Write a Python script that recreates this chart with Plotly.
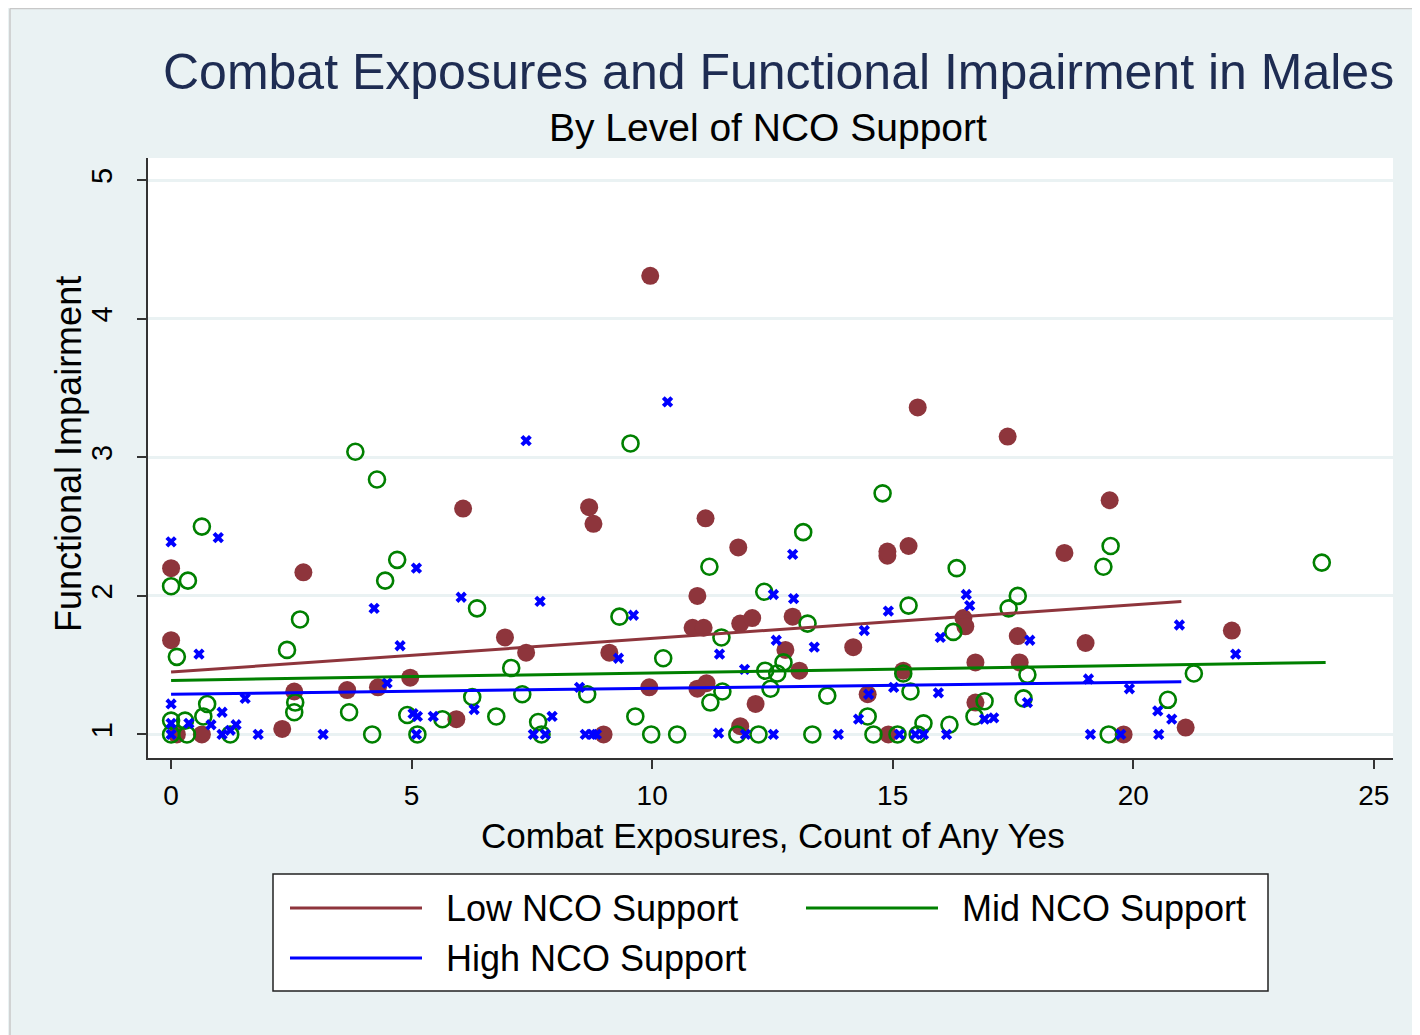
import plotly.graph_objects as go

# ---------------- data ----------------
low_x = [0.00, 0.00, 0.12, 0.64, 2.75, 2.56, 2.31, 3.66, 4.30, 4.97, 5.93, 6.07, 6.94, 7.38, 8.69, 8.78,
         8.99, 9.11, 9.96, 9.94, 10.94, 10.84, 11.07, 11.11, 11.13, 10.94, 11.79, 11.83, 12.08, 11.83,
         12.15, 12.77, 12.92, 13.06, 14.18, 14.48, 14.89, 14.89, 14.91, 15.33, 15.52, 15.22, 16.47,
         16.51, 16.72, 16.72, 17.39, 17.60, 17.64, 18.57, 19.01, 19.51, 19.80, 22.05, 21.09]
low_y = [2.20, 1.68, 1.00, 1.00, 2.17, 1.31, 1.04, 1.32, 1.34, 1.41, 1.11, 2.63, 1.70, 1.59, 2.64, 2.52,
         1.00, 1.59, 4.31, 1.34, 2.00, 1.77, 1.77, 2.56, 1.37, 1.33, 2.35, 1.80, 1.84, 1.06,
         1.22, 1.61, 1.85, 1.46, 1.63, 1.29, 2.29, 2.32, 1.00, 2.36, 3.36, 1.46, 1.84,
         1.78, 1.52, 1.23, 3.15, 1.71, 1.52, 2.31, 1.66, 2.69, 1.00, 1.75, 1.05]

mid_x = [0.00, 0.35, 0.64, 0.12, 0.00, 0.00, 0.33, 0.29, 0.67, 0.75, 1.23, 2.41, 2.68, 2.58, 2.56, 3.83,
         4.28, 4.45, 4.70, 3.70, 4.18, 4.91, 5.12, 5.64, 6.26, 6.36, 6.76, 7.07, 7.30, 7.63, 7.70,
         8.65, 9.32, 9.55, 9.65, 9.98, 10.23, 10.52, 11.19, 11.44, 11.46, 11.21, 11.77, 12.21, 12.33,
         12.35, 12.46, 12.60, 12.73, 13.14, 13.23, 13.33, 13.64, 14.48, 14.60, 14.79, 15.10, 15.22,
         15.33, 15.37, 15.52, 15.64, 16.18, 16.33, 16.26, 16.70, 16.91, 17.41, 17.60, 17.72, 17.80,
         19.38, 19.53, 19.49, 20.72, 21.26, 23.92]
mid_y = [2.07, 2.11, 2.50, 1.56, 1.10, 1.00, 1.00, 1.10, 1.13, 1.22, 1.00, 1.61, 1.83, 1.23, 1.16, 3.04,
         2.84, 2.11, 2.26, 1.16, 1.00, 1.14, 1.00, 1.11, 1.27, 1.91, 1.13, 1.48, 1.29, 1.09, 1.00,
         1.29, 1.85, 3.10, 1.13, 1.00, 1.55, 1.00, 2.21, 1.70, 1.31, 1.23, 1.00, 1.00, 2.03,
         1.46, 1.33, 1.44, 1.52, 2.46, 1.80, 1.00, 1.28, 1.13, 1.00, 2.74, 1.00, 1.44,
         1.93, 1.31, 1.00, 1.08, 1.07, 2.20, 1.74, 1.13, 1.24, 1.91, 2.00, 1.26, 1.43,
         2.21, 2.36, 1.00, 1.25, 1.44, 2.24]

high_x = [0.00, 0.98, 0.58, 1.54, 0.00, 1.06, 0.00, 0.37, 0.83, 1.35, 1.23, 1.06, 0.00, 1.81, 3.16,
          4.22, 4.76, 5.10, 4.49, 6.03, 7.67, 7.38, 6.30, 5.45, 5.03, 5.12, 5.10, 7.92, 7.53, 7.78,
          10.32, 9.61, 12.92, 12.52, 12.94, 14.91, 16.53, 16.60, 14.41, 15.99, 12.58, 11.40, 13.37,
          9.30, 11.92, 8.49, 15.02, 15.95, 14.50, 14.29, 8.61, 8.76, 8.84, 11.38, 11.94, 12.52,
          13.87, 15.14, 15.47, 15.64, 16.12, 17.85, 20.96, 22.13, 19.07, 19.92, 17.80, 20.51,
          20.80, 16.91, 17.10, 19.11, 19.74, 20.53]
high_y = [2.39, 2.42, 1.58, 1.26, 1.22, 1.16, 1.08, 1.08, 1.07, 1.07, 1.03, 1.00, 1.00, 1.00, 1.00,
          1.91, 1.64, 2.20, 1.37, 1.99, 1.96, 3.12, 1.18, 1.13, 1.15, 1.13, 1.00, 1.13, 1.00, 1.00,
          3.40, 1.86, 2.30, 2.01, 1.98, 1.89, 2.01, 1.93, 1.75, 1.70, 1.68, 1.58, 1.63,
          1.55, 1.47, 1.34, 1.34, 1.30, 1.29, 1.11, 1.00, 1.00, 1.00, 1.01, 1.00, 1.00,
          1.00, 1.00, 1.00, 1.00, 1.00, 1.68, 1.79, 1.58, 1.40, 1.33, 1.23, 1.17,
          1.11, 1.11, 1.12, 1.00, 1.00, 1.00]

# linear fit lines (endpoints)
low_fit_x = [0, 21]
low_fit_y = [1.45, 1.96]
mid_fit_x = [0, 24]
mid_fit_y = [1.39, 1.52]
high_fit_x = [0, 21]
high_fit_y = [1.29, 1.38]

series_names = ["Low NCO Support", "Mid NCO Support", "High NCO Support"]
x_ticks = [0, 5, 10, 15, 20, 25]
y_ticks = [1, 2, 3, 4, 5]

# ---------------- styling ----------------
C_LOW = "#8E353C"
C_MID = "#008000"
C_HIGH = "#0000FF"
BG = "#EAF2F3"
FONT = "Liberation Sans, Arial, sans-serif"

W, H = 1420, 1035
OFF = 8  # page body margin in the screenshot
# plot area in screenshot pixels
SL, SR, ST, SB = 148, 1393, 158, 758
L, R, T, B = SL - OFF, SR - OFF, ST - OFF, SB - OFF  # in figure pixels


def px(xs):
    """screenshot x pixel -> paper"""
    return (xs - SL) / (SR - SL)


def py(ys):
    """screenshot y pixel -> paper"""
    return (SB - ys) / (SB - ST)


fig = go.Figure()

fig.add_trace(go.Scatter(x=low_x, y=low_y, mode="markers", showlegend=False,
                         marker=dict(symbol="circle", size=18, color=C_LOW, line=dict(width=0))))
fig.add_trace(go.Scatter(x=mid_x, y=mid_y, mode="markers", showlegend=False,
                         marker=dict(symbol="circle-open", size=16, color=C_MID, line=dict(width=2.6, color=C_MID))))
fig.add_trace(go.Scatter(x=high_x, y=high_y, mode="markers", showlegend=False,
                         marker=dict(symbol="x", size=10, color=C_HIGH, line=dict(width=0))))

fig.add_trace(go.Scatter(x=low_fit_x, y=low_fit_y, mode="lines", name=series_names[0],
                         showlegend=False, line=dict(color=C_LOW, width=3)))
fig.add_trace(go.Scatter(x=mid_fit_x, y=mid_fit_y, mode="lines", name=series_names[1],
                         showlegend=False, line=dict(color=C_MID, width=3)))
fig.add_trace(go.Scatter(x=high_fit_x, y=high_fit_y, mode="lines", name=series_names[2],
                         showlegend=False, line=dict(color=C_HIGH, width=3)))

shapes = []
annotations = []

# thin gray frame at the left/top of the graph region
shapes.append(dict(type="line", xref="paper", yref="paper", x0=px(10), x1=px(10), y0=py(1040), y1=py(8.5),
                   line=dict(color="#C8C8C8", width=1.5)))
shapes.append(dict(type="line", xref="paper", yref="paper", x0=px(10), x1=px(1430), y0=py(8.5), y1=py(8.5),
                   line=dict(color="#C8C8C8", width=1.5)))

# legend box
shapes.append(dict(type="rect", xref="paper", yref="paper", x0=px(273), x1=px(1268), y0=py(991), y1=py(874),
                   fillcolor="white", line=dict(color="#222222", width=1.5)))
legend_items = [(series_names[0], C_LOW, 290, 908), (series_names[1], C_MID, 806, 908),
                (series_names[2], C_HIGH, 290, 958)]
for name, col, x0, yc in legend_items:
    shapes.append(dict(type="line", xref="paper", yref="paper", x0=px(x0), x1=px(x0 + 132),
                       y0=py(yc), y1=py(yc), line=dict(color=col, width=3)))
    annotations.append(dict(text=name, xref="paper", yref="paper", x=px(x0 + 154), y=py(yc),
                            xanchor="left", yanchor="middle", showarrow=False,
                            font=dict(family=FONT, size=36, color="black")))

# titles
annotations.append(dict(text="Combat Exposures and Functional Impairment in Males", xref="paper", yref="paper",
                        x=px(778), y=py(72), xanchor="center", yanchor="middle", showarrow=False,
                        font=dict(family=FONT, size=50, color="#1E2C52")))
annotations.append(dict(text="By Level of NCO Support", xref="paper", yref="paper",
                        x=px(768), y=py(128), xanchor="center", yanchor="middle", showarrow=False,
                        font=dict(family=FONT, size=39, color="black")))

# axis titles
annotations.append(dict(text="Combat Exposures, Count of Any Yes", xref="paper", yref="paper",
                        x=px(773), y=py(835), xanchor="center", yanchor="middle", showarrow=False,
                        font=dict(family=FONT, size=35, color="black")))
annotations.append(dict(text="Functional Impairment", xref="paper", yref="paper", textangle=-90,
                        x=px(68), y=py(454), xanchor="center", yanchor="middle", showarrow=False,
                        font=dict(family=FONT, size=36, color="black")))

fig.update_layout(
    width=W, height=H,
    margin=dict(l=L, r=W - R, t=T, b=H - B, pad=0),
    paper_bgcolor=BG, plot_bgcolor="white",
    font=dict(family=FONT, size=28, color="black"),
    shapes=shapes, annotations=annotations,
    showlegend=False,
)
fig.update_xaxes(range=[-0.48, 25.4], tickvals=x_ticks, ticks="outside", ticklen=9, tickwidth=1.5,
                 tickcolor="#333333", showgrid=False, zeroline=False, showline=True, linecolor="#333333",
                 linewidth=1.5, tickfont=dict(size=28), ticklabelstandoff=3)
fig.update_yaxes(range=[0.83, 5.16], tickvals=y_ticks, ticks="outside", ticklen=9, tickwidth=1.5,
                 tickcolor="#333333", showgrid=True, gridcolor=BG, gridwidth=2.5, zeroline=False,
                 showline=True, linecolor="#333333", linewidth=1.5, tickangle=-90, tickfont=dict(size=29),
                 ticklabelstandoff=14)

fig.write_html("out.html")
